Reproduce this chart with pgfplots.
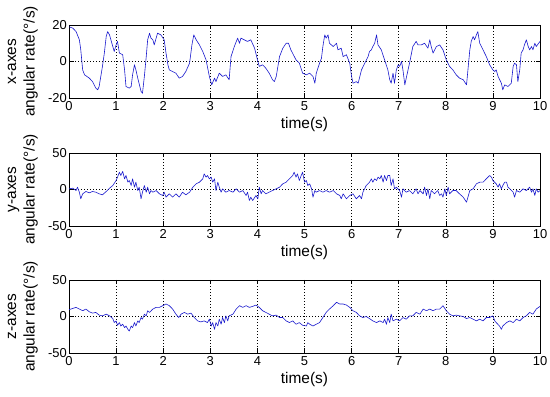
\documentclass[border=0pt]{standalone}
\usepackage{pgfplots}
\pgfplotsset{compat=1.18}
\usepackage{fontspec}
\setmainfont{Liberation Sans}
\definecolor{mblue}{RGB}{25,25,205}
\pgfplotstableread{
t v
0.00 19.0
0.08 18.3
0.15 16.4
0.18 14.5
0.22 11.9
0.25 6.4
0.29 -4.6
0.33 -7.3
0.38 -8.2
0.43 -9.1
0.50 -11.0
0.57 -14.6
0.61 -15.5
0.64 -13.7
0.71 -2.7
0.75 4.6
0.79 13.7
0.82 16.4
0.86 14.6
0.93 8.2
0.96 5.5
1.00 9.1
1.03 11.0
1.07 4.6
1.14 3.7
1.18 -4.6
1.21 -13.7
1.28 -14.6
1.32 -13.7
1.35 -7.3
1.39 -1.8
1.42 -4.6
1.46 -9.1
1.53 -16.4
1.56 -17.4
1.60 -8.2
1.64 2.7
1.67 11.9
1.71 15.5
1.74 12.8
1.78 11.9
1.81 9.1
1.85 12.8
1.88 15.5
1.95 14.6
2.02 11.9
2.06 4.6
2.10 -1.8
2.13 -4.6
2.20 -5.5
2.27 -6.4
2.34 -9.1
2.41 -8.2
2.48 -5.5
2.56 -0.9
2.61 9.1
2.65 14.6
2.70 11.9
2.77 9.1
2.84 5.5
2.91 0.9
2.98 -8.2
3.03 -12.8
3.09 -9.1
3.12 -11.0
3.19 -6.4
3.26 -8.2
3.33 -7.3
3.40 -10.0
3.44 2.7
3.51 8.2
3.58 12.8
3.62 10.0
3.65 12.8
3.72 11.9
3.79 11.0
3.86 11.9
3.94 7.3
4.01 0.0
4.04 -2.7
4.11 -1.8
4.18 -3.7
4.25 -6.4
4.32 -10.0
4.36 -11.0
4.40 -8.2
4.47 2.7
4.54 7.3
4.61 10.0
4.66 10.0
4.71 6.4
4.82 0.9
4.89 -0.9
4.96 -6.4
5.04 -7.3
5.11 -6.4
5.18 -8.2
5.22 -11.9
5.25 -6.4
5.32 -0.9
5.36 1.8
5.39 8.2
5.43 14.6
5.46 12.8
5.50 14.6
5.53 10.0
5.61 8.2
5.68 10.0
5.71 6.4
5.78 7.3
5.82 2.7
5.89 3.7
5.96 -0.9
6.00 -8.2
6.03 -11.9
6.10 -11.0
6.14 -11.9
6.21 -4.6
6.28 -0.9
6.35 2.7
6.38 5.5
6.42 6.4
6.45 8.2
6.49 10.0
6.53 14.6
6.56 9.1
6.63 6.4
6.70 0.9
6.77 -4.6
6.81 -10.0
6.84 -11.9
6.88 -6.4
6.91 -11.9
6.95 -4.6
6.99 -1.8
7.02 -2.7
7.06 0.0
7.09 -4.6
7.13 -12.8
7.16 -9.1
7.23 -0.9
7.30 8.2
7.37 11.0
7.41 9.1
7.48 9.1
7.55 10.0
7.62 7.3
7.66 11.9
7.69 8.2
7.73 4.6
7.80 8.2
7.87 9.1
7.94 6.4
8.01 0.9
8.08 -2.7
8.15 -4.6
8.22 -7.3
8.29 -9.1
8.37 -10.0
8.44 -12.8
8.47 -4.6
8.51 6.4
8.54 11.0
8.58 13.7
8.61 11.9
8.65 14.6
8.68 16.4
8.72 10.0
8.79 6.4
8.86 2.7
8.93 -1.8
9.00 -4.6
9.04 -5.5
9.07 -4.6
9.11 -8.2
9.18 -11.9
9.21 -15.5
9.25 -12.8
9.32 -13.7
9.39 -11.9
9.43 -2.7
9.46 -0.9
9.50 -1.8
9.53 -11.0
9.57 -4.6
9.60 4.6
9.64 6.4
9.67 9.1
9.71 11.9
9.75 8.2
9.78 6.4
9.82 8.2
9.85 6.4
9.89 10.0
9.92 8.2
10.00 11.0
}\xdata
\pgfplotstableread{
t v
0.00 0.9
0.08 1.8
0.15 -1.4
0.18 3.2
0.22 -3.7
0.25 -12.8
0.29 -5.9
0.36 -2.7
0.43 -4.6
0.50 -2.7
0.57 -3.7
0.64 -5.9
0.71 -7.3
0.79 -2.7
0.86 1.8
0.93 5.5
1.00 12.3
1.03 16.9
1.07 23.7
1.10 19.2
1.14 24.7
1.18 14.6
1.21 19.2
1.25 10.0
1.28 12.3
1.32 5.5
1.35 14.6
1.39 3.2
1.42 10.0
1.46 -1.4
1.49 3.2
1.53 -12.8
1.56 -3.7
1.60 5.5
1.64 -3.7
1.67 3.2
1.71 -5.9
1.74 -1.4
1.78 -3.7
1.85 -1.4
1.92 -5.9
1.99 -8.2
2.02 -3.7
2.06 -10.5
2.13 -5.9
2.20 -10.5
2.27 -5.9
2.34 -10.5
2.41 -3.7
2.48 -7.3
2.56 -3.7
2.63 3.2
2.70 7.8
2.77 10.0
2.84 14.6
2.87 21.5
2.91 16.9
2.94 19.2
2.98 14.6
3.02 16.9
3.05 10.0
3.09 14.6
3.12 -1.4
3.16 10.0
3.19 3.2
3.23 -3.7
3.26 0.9
3.33 -3.7
3.40 -1.4
3.48 -3.7
3.55 0.9
3.62 -3.7
3.69 -1.4
3.76 -8.2
3.79 -3.7
3.83 -15.1
3.86 -10.5
3.90 -15.1
3.97 -8.2
4.01 -12.8
4.04 3.2
4.08 -5.9
4.11 -1.4
4.18 -5.9
4.25 -3.7
4.32 -1.4
4.40 0.9
4.47 3.2
4.54 7.8
4.61 10.0
4.68 14.6
4.75 19.2
4.78 23.7
4.82 16.9
4.85 21.5
4.89 12.3
4.93 19.2
4.96 23.7
5.00 10.0
5.04 12.3
5.07 5.5
5.11 7.8
5.15 0.9
5.18 -10.5
5.22 -1.4
5.25 -3.7
5.32 -1.4
5.39 -3.7
5.46 -1.4
5.53 -3.7
5.61 -1.4
5.68 -5.9
5.75 -8.2
5.78 -12.8
5.82 -5.9
5.89 -12.8
5.96 -8.2
6.03 -5.9
6.10 -12.8
6.17 -8.2
6.21 -12.8
6.24 -3.7
6.31 5.5
6.38 10.0
6.42 14.6
6.45 10.0
6.49 14.6
6.53 12.3
6.56 16.9
6.60 14.6
6.63 19.2
6.67 10.0
6.70 19.2
6.74 12.3
6.77 19.2
6.81 19.2
6.84 5.5
6.88 14.6
6.91 0.9
6.95 3.2
7.02 -1.4
7.06 -10.5
7.09 0.9
7.16 -3.7
7.23 -1.4
7.30 -5.9
7.37 0.9
7.41 -5.9
7.45 -1.4
7.52 -5.9
7.55 3.2
7.59 -8.2
7.62 0.9
7.66 -12.8
7.69 -1.4
7.76 -5.9
7.83 -1.4
7.87 -8.2
7.91 -5.9
7.94 -10.5
7.98 0.9
8.01 -8.2
8.05 3.2
8.08 -5.9
8.15 -1.4
8.22 -1.4
8.29 -5.9
8.37 -10.5
8.44 -17.4
8.47 -10.5
8.51 -1.4
8.58 0.9
8.65 7.8
8.72 10.0
8.79 10.0
8.86 14.6
8.93 19.2
8.97 16.9
9.00 12.3
9.07 7.8
9.11 3.2
9.14 7.8
9.18 0.9
9.21 5.5
9.25 10.0
9.29 10.0
9.32 3.2
9.36 0.9
9.43 -3.7
9.46 -10.5
9.50 -1.4
9.57 -3.7
9.64 0.9
9.71 -1.4
9.78 3.2
9.82 -3.7
9.85 0.9
9.89 -8.2
9.92 0.9
9.96 -3.7
10.00 -1.4
}\ydata
\pgfplotstableread{
t v
0.00 9.3
0.08 11.0
0.15 12.5
0.22 10.2
0.29 7.9
0.36 10.2
0.43 6.5
0.50 4.6
0.57 5.6
0.64 1.9
0.71 0.9
0.79 3.2
0.86 0.9
0.93 -2.8
0.96 -8.3
1.00 -6.0
1.03 -12.0
1.07 -8.3
1.10 -13.0
1.14 -10.6
1.18 -15.3
1.21 -13.0
1.25 -17.6
1.28 -19.9
1.32 -13.0
1.35 -15.3
1.39 -8.3
1.42 -13.0
1.46 -6.0
1.49 -8.3
1.53 -1.4
1.56 -3.7
1.60 3.2
1.64 0.9
1.67 7.9
1.71 5.6
1.78 10.2
1.85 12.5
1.92 12.5
1.99 14.8
2.06 17.1
2.13 14.8
2.20 10.2
2.27 3.2
2.33 -1.4
2.38 3.2
2.45 5.6
2.52 3.2
2.59 4.6
2.66 -1.4
2.73 -6.0
2.80 -7.4
2.87 -6.0
2.94 -8.3
2.98 -3.7
3.02 -13.0
3.05 -8.3
3.09 -17.6
3.12 -8.3
3.16 -13.0
3.19 -3.7
3.23 -10.6
3.26 -1.4
3.30 -8.3
3.33 0.9
3.37 -6.0
3.40 0.9
3.48 3.2
3.55 10.2
3.62 14.8
3.69 12.5
3.76 14.8
3.83 12.5
3.90 13.9
3.97 15.7
4.04 12.5
4.11 7.9
4.18 5.6
4.25 3.2
4.32 0.9
4.40 1.9
4.47 -1.4
4.54 -1.4
4.61 -6.0
4.68 -8.3
4.75 -6.0
4.82 -10.6
4.89 -8.3
4.96 -12.0
5.04 -13.0
5.07 -8.3
5.11 -10.6
5.18 -13.0
5.25 -10.6
5.32 -8.3
5.39 -1.4
5.46 5.6
5.53 10.2
5.61 14.8
5.68 19.4
5.75 17.1
5.82 17.1
5.89 15.7
5.96 12.5
6.03 7.9
6.10 5.6
6.17 0.9
6.24 -1.4
6.31 0.0
6.38 -2.8
6.45 -6.0
6.53 -8.3
6.60 -6.0
6.67 -8.3
6.70 -3.7
6.74 -10.6
6.77 -1.4
6.81 -8.3
6.84 3.2
6.88 -6.0
6.95 -3.7
7.02 -6.0
7.09 -1.4
7.16 -3.7
7.23 0.9
7.30 0.9
7.37 5.6
7.45 3.2
7.52 10.2
7.59 7.9
7.66 10.2
7.73 7.9
7.80 10.2
7.87 10.2
7.94 14.8
8.01 7.9
8.08 3.2
8.15 0.9
8.22 1.9
8.29 0.9
8.37 0.0
8.44 -2.8
8.51 -1.4
8.58 -3.7
8.65 -6.0
8.72 -3.7
8.79 -6.0
8.86 -1.4
8.93 -1.4
9.00 0.9
9.04 -6.0
9.07 -8.3
9.14 -13.0
9.18 -17.6
9.21 -13.0
9.29 -8.3
9.36 -6.0
9.43 -8.3
9.50 -3.7
9.57 -6.0
9.64 -1.4
9.71 0.9
9.78 5.6
9.85 3.2
9.92 10.2
10.00 13.9
}\zdata
\pgfplotsset{
 mystyle/.style={
  scale only axis, width=471bp, height=73bp,
  xmin=0, xmax=10, xtick={0,1,...,10},
  grid=major,
  major grid style={black, line width=0.45bp, dash pattern=on 0.7bp off 2.3bp},
  tick align=inside, major tick length=4.5bp,
  axis line style={black, line width=0.6bp},
  tick style={black, line width=0.6bp},
  tick label style={font=\fontsize{13}{13}\selectfont},
  label style={font=\fontsize{15.5}{18.5}\selectfont},
  /pgf/number format/assume math mode=true,
  xlabel={time(s)},
  xlabel style={at={(axis description cs:0.5,0)}, anchor=north, yshift=-19bp, inner sep=0pt},
  ylabel style={at={(axis description cs:-0.066,0.5)}, anchor=south, align=center, inner sep=0pt},
  yticklabel style={inner sep=2bp},
  no markers,
 },
 sig/.style={color=mblue, line width=0.6bp, mark=none, line join=round},
}
\begin{document}
\begin{tikzpicture}
\useasboundingbox (0,0) rectangle (550bp,397bp);
\begin{axis}[mystyle, at={(69bp,299bp)}, anchor=south west,
  ymin=-20, ymax=20, ytick={-20,0,20},
  ylabel={x-axes\\angular rate(°/s)}]
\addplot[sig] table[x=t,y=v]{\xdata};
\end{axis}
\begin{axis}[mystyle, at={(69bp,171bp)}, anchor=south west,
  ymin=-50, ymax=50, ytick={-50,0,50},
  ylabel={y-axes\\angular rate(°/s)}]
\addplot[sig] table[x=t,y=v]{\ydata};
\end{axis}
\begin{axis}[mystyle, at={(69bp,44bp)}, anchor=south west,
  ymin=-50, ymax=50, ytick={-50,0,50},
  ylabel={z-axes\\angular rate(°/s)}]
\addplot[sig] table[x=t,y=v]{\zdata};
\end{axis}
\end{tikzpicture}
\end{document}
